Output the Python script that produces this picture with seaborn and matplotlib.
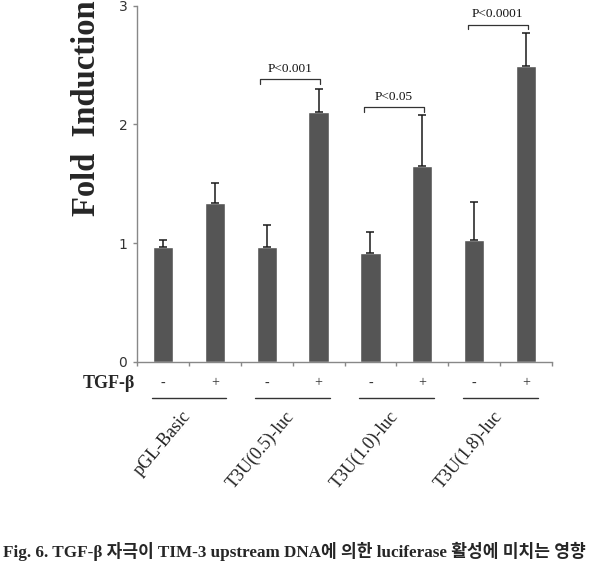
import numpy as np
import pandas as pd
import matplotlib.pyplot as plt
import seaborn as sns

# --- Data ---
constructs = ['pGL-Basic', 'T3U(0.5)-luc', 'T3U(1.0)-luc', 'T3U(1.8)-luc']
tgf_signs = ['-', '+']
fold_means = [0.965, 1.34, 0.965, 2.10, 0.92, 1.65, 1.025, 2.49]
fold_errs = [0.06, 0.165, 0.19, 0.20, 0.175, 0.43, 0.32, 0.28]

# significance brackets: (bar i, bar j), bracket height, label
sig_pairs = [(2, 3), (4, 5), (6, 7)]
sig_heights = [2.38, 2.145, 2.84]
sig_labels = ['P<0.001', 'P<0.05', 'P<0.0001']

caption = 'Fig. 6. TGF-β 자극이 TIM-3 upstream DNA에 의한 luciferase 활성에 미치는 영향'

# --- Build table ---
rows = []
for c in constructs:
    for s in tgf_signs:
        rows.append({'bar': c + ' ' + s, 'construct': c, 'tgf': s})
df = pd.DataFrame(rows)
df['fold'] = fold_means
df['err'] = fold_errs

sns.set_style('white')
serif = 'Liberation Serif'
plt.rcParams['font.family'] = ['DejaVu Sans']

fig = plt.figure(figsize=(6.02, 5.64), dpi=100)
ax = fig.add_axes([0.2276, 0.3587, 0.6894, 0.6313])

bar_color = '#555555'
sns.barplot(data=df, x='bar', y='fold', color=bar_color, saturation=1,
            width=0.39, errorbar=None, ax=ax)
xpos = np.arange(len(df))
ax.errorbar(xpos, df['fold'], yerr=[np.zeros(len(df)), df['err']],
            fmt='none', ecolor='#1a1a1a', elinewidth=1.1, capsize=2.6, capthick=1.1)

# axes styling
ax.set_xlim(-0.5, len(df) - 0.5)
ax.set_ylim(0, 3)
ax.set_yticks([0, 1, 2, 3])
ax.set_yticklabels(['0', '1', '2', '3'], fontsize=10, color='#333333')
ax.set_xticks(np.arange(-0.5, len(df), 1))
ax.set_xticklabels([])
ax.tick_params(axis='both', direction='out', length=3, width=1, color='#888888',
               left=True, bottom=True, pad=4)
ax.set_xlabel('')
ax.set_ylabel('')
for side in ['top', 'right']:
    ax.spines[side].set_visible(False)
for side in ['left', 'bottom']:
    ax.spines[side].set_color('#888888')
    ax.spines[side].set_linewidth(1)

# significance brackets
for (i, j), h, lab in zip(sig_pairs, sig_heights, sig_labels):
    x0, x1 = i - 0.12, j + 0.03
    ax.plot([x0, x0, x1, x1], [h - 0.04, h, h, h - 0.04], color='#333333', lw=0.9,
            clip_on=False)
    ax.text((x0 + x1) / 2, h + 0.035, lab, ha='center', va='bottom',
            fontsize=9.5, family=serif, color='#111111')

# TGF-beta row and construct labels below axis
trans = ax.get_xaxis_transform()
ax.text(-0.54, -0.06, 'TGF-β', ha='right', va='center', fontsize=13,
        fontweight='bold', family=serif, transform=trans, clip_on=False)
for k, sign in enumerate(df['tgf']):
    ax.text(k, -0.06, sign, ha='center', va='center', fontsize=10,
            family=serif, color='#333333', transform=trans, clip_on=False)
for g, name in enumerate(constructs):
    center = 2 * g + 0.5
    ax.plot([center - 0.72, center + 0.72], [-0.102, -0.102], color='#333333',
            lw=1, transform=trans, clip_on=False)
    ax.text(center - 0.15, -0.13, name, ha='right', va='top', rotation=50,
            rotation_mode='anchor', fontsize=13, family=serif, color='#222222',
            transform=trans, clip_on=False)

# y axis label
fig.text(0.143, 0.809, 'Fold  Induction', rotation=90, ha='center', va='center',
         fontsize=23.5, fontweight='bold', family=serif)

# caption at the bottom edge
fig.text(0.005, 0.012, caption, ha='left', va='baseline', fontsize=12.3,
         fontweight='bold', family=[serif, 'Noto Sans CJK KR'])

fig.savefig('out.png', dpi=100)
plt.close(fig)
